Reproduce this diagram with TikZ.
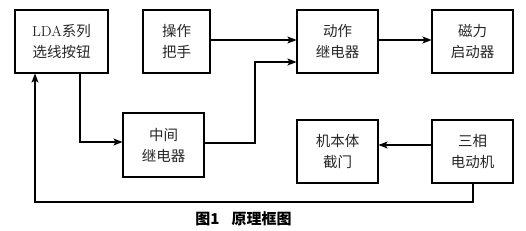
\documentclass[tikz,border=0pt]{standalone}
\usepackage{fontspec}
\newfontfamily\cjk{Noto Sans CJK SC}
\usetikzlibrary{arrows.meta}

\tikzset{
  blk/.style={draw,line width=1.1pt,align=center,inner sep=0pt,
    font=\cjk\fontsize{14.5}{21}\selectfont,text=black!85},
  arr/.style={-{Stealth[length=9pt,width=7pt,inset=2pt]},line width=1.2pt},
  ln/.style={line width=1.2pt}
}

\begin{document}
\begin{tikzpicture}[x=1pt,y=-1pt]
		\useasboundingbox (0,0) rectangle (526,230);
		% top row
		\node[blk,minimum width=93pt,minimum height=63pt] (lda) at (61.5,41.5) {{\rmfamily LDA}系列\\选线按钮};
		\node[blk,minimum width=67pt,minimum height=63pt] (hand) at (176.5,41.5) {操作\\把手};
		\node[blk,minimum width=81pt,minimum height=63pt] (relay) at (337.5,41.5) {动作\\继电器};
		\node[blk,minimum width=81pt,minimum height=63pt] (start) at (472.5,41.5) {磁力\\启动器};
		% bottom row
		\node[blk,minimum width=81pt,minimum height=64pt] (mid) at (163.5,145) {中间\\继电器};
		\node[blk,minimum width=81pt,minimum height=63pt] (gate) at (337.5,151.5) {机本体\\截门};
		\node[blk,minimum width=81pt,minimum height=63pt] (motor) at (472.5,151.5) {三相\\电动机};
		% bends
		\coordinate (c1) at (80,142);
		\coordinate (c2) at (255,143);
		\coordinate (c3) at (255,62);
		\coordinate (c4) at (473,202);
		\coordinate (c5) at (35,202);
		% links
		\draw[arr] (hand.east |- 0,40) -- (relay.west |- 0,40);
		\draw[arr] (relay.east |- 0,40) -- (start.west |- 0,40);
		\draw[arr] (lda.south -| c1) -- (c1) -- (mid.west |- c1);
		\draw[arr] (mid.east |- c2) -- (c2) -- (c3) -- (relay.west |- c3);
		\draw[arr] (motor.west |- 0,145) -- (gate.east |- 0,145);
		\draw[arr] (motor.south -| c4) -- (c4) -- (c5) -- (lda.south -| c5);
		% caption
		\node[font=\cjk\bfseries\fontsize{15}{17}\selectfont] (cap) at (243.5,219) {图1\hspace{0.8em}原理框图};
\end{tikzpicture}
\end{document}
